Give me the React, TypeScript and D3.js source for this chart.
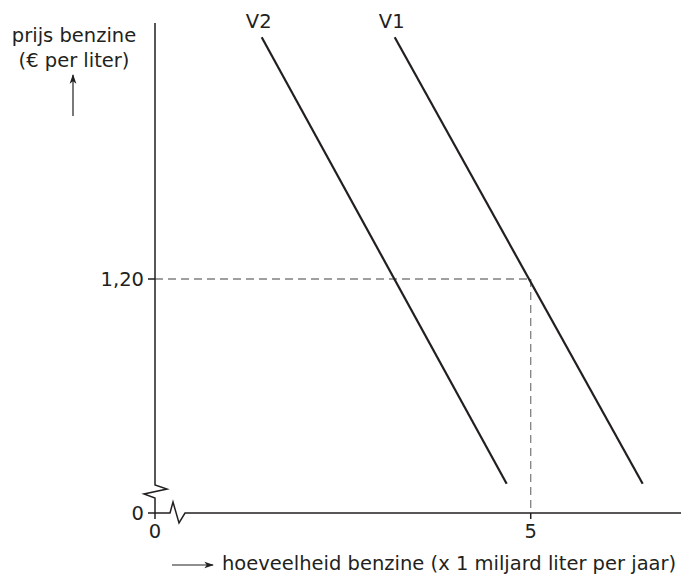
import React from 'react';
import * as d3 from 'd3';

// demand lines: [quantity, price]
const v1Points: [number, number][] = [[3.19, 2.44], [6.49, 0.15]];
const v2Points: [number, number][] = [[1.42, 2.44], [4.68, 0.15]];
const lineNames = ['V1', 'V2'];
const priceTicks = [0, 1.2];
const priceTickLabels = ['0', '1,20'];
const qtyTicks = [0, 5];
const qtyTickLabels = ['0', '5'];
const equilibrium: [number, number] = [5, 1.2];

const width = 683;
const height = 576;
const font = '"DejaVu Sans", sans-serif';
const fs = 19.5;

export default function App() {
  const x = d3.scaleLinear().domain([0, 7]).range([155, 681]);
  const y = d3.scaleLinear().domain([0, 2.5]).range([513, 25.5]);
  const line = d3.line<[number, number]>().x(d => x(d[0])).y(d => y(d[1]));

  const x0 = x(0), y0 = y(0);
  const ink = '#231f20';

  // axis break zigzags
  const yBreak = `M${x0},23 L${x0},485 L${x0 + 12},489 L${x0 - 11},494 L${x0},498 L${x0},${y0}`;
  const xBreak = `M${x0},${y0} L${x0 + 15},${y0} L${x0 + 18},502 L${x0 + 24},523 L${x0 + 30},${y0} L681,${y0}`;

  return (
    <svg width={width} height={height} style={{ position: 'absolute', left: 0, top: 0 }}>
      <defs>
        <marker id="arr" viewBox="0 0 10 10" refX="9" refY="5" markerWidth="8" markerHeight="8" orient="auto">
          <path d="M0,1.5 L10,5 L0,8.5 L2.5,5 Z" fill={ink} />
        </marker>
      </defs>

      {/* dashed guides */}
      <g stroke="#808080" strokeWidth={1.3} strokeDasharray="8,5" fill="none">
        <line x1={x0} x2={x(equilibrium[0])} y1={y(equilibrium[1])} y2={y(equilibrium[1])} />
        <line x1={x(equilibrium[0])} x2={x(equilibrium[0])} y1={y(equilibrium[1])} y2={y0} />
      </g>

      {/* axes */}
      <g stroke={ink} strokeWidth={1.5} fill="none">
        <path d={yBreak} />
        <path d={xBreak} />
        {priceTicks.map(t => (
          <line key={'py' + t} x1={x0 - 7} x2={x0} y1={y(t)} y2={y(t)} />
        ))}
        {qtyTicks.map(t => (
          <line key={'qx' + t} x1={x(t)} x2={x(t)} y1={y0} y2={y0 + 6} />
        ))}
      </g>

      <g fontFamily={font} fontSize={fs} fill={ink}>
        {priceTicks.map((t, i) => (
          <text key={'pl' + t} x={x0 - 11} y={y(t)} dy="0.36em" textAnchor="end">{priceTickLabels[i]}</text>
        ))}
        {qtyTicks.map((t, i) => (
          <text key={'ql' + t} x={x(t)} y={y0 + 25} textAnchor="middle">{qtyTickLabels[i]}</text>
        ))}
      </g>

      {/* demand lines */}
      {[v1Points, v2Points].map((pts, i) => (
        <g key={lineNames[i]}>
          <path d={line(pts) || ''} stroke={ink} strokeWidth={2.2} fill="none" />
          <text x={x(pts[0][0]) - 3} y={y(pts[0][1]) - 9} textAnchor="middle" fontFamily={font} fontSize={fs} fill={ink}>
            {lineNames[i]}
          </text>
        </g>
      ))}

      {/* axis titles */}
      <g fontFamily={font} fontSize={fs} fill={ink} textAnchor="middle">
        <text x={74} y={42}>prijs benzine</text>
        <text x={74} y={67}>(€ per liter)</text>
      </g>
      <line x1={73} x2={73} y1={116} y2={75} stroke={ink} strokeWidth={1.2} markerEnd="url(#arr)" />
      <line x1={172} x2={213} y1={565} y2={565} stroke={ink} strokeWidth={1.2} markerEnd="url(#arr)" />
      <text x={222} y={570} fontFamily={font} fontSize={fs} fill={ink}>hoeveelheid benzine (x 1 miljard liter per jaar)</text>
    </svg>
  );
}
